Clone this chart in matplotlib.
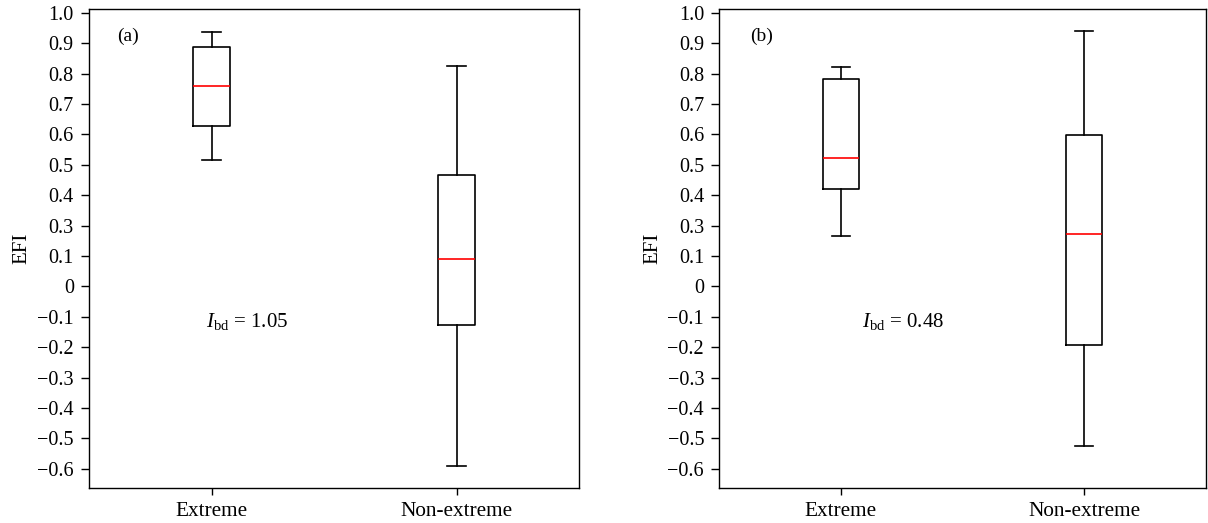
import numpy as np
import matplotlib
matplotlib.use("Agg")
import matplotlib.pyplot as plt

plt.rcParams['font.family'] = ['Liberation Serif', 'DejaVu Serif']
plt.rcParams['mathtext.fontset'] = 'custom'
plt.rcParams['mathtext.rm'] = 'Liberation Serif'
plt.rcParams['mathtext.it'] = 'Liberation Serif:italic'

categories = ["Extreme", "Non-extreme"]
panel_tags = ["(a)", "(b)"]
ibd_values = ["1.05", "0.48"]

# tick labels exactly as printed (the original axis skips 0.2)
tick_labels = [1.0, 0.9, 0.8, 0.7, 0.6, 0.5, 0.4, 0.3, 0.1, 0.0,
               -0.1, -0.2, -0.3, -0.4, -0.5, -0.6]

# box statistics, in tick-label units
# order: whislo, q1, med, q3, whishi
a_extreme = [0.516, 0.629, 0.759, 0.889, 0.936]
a_nonextreme = [-0.591, -0.126, 0.090, 0.467, 0.826]
b_extreme = [0.232, 0.420, 0.524, 0.781, 0.823]
b_nonextreme = [-0.526, -0.193, 0.246, 0.598, 0.941]

panels = [[a_extreme, a_nonextreme], [b_extreme, b_nonextreme]]

# equally spaced tick positions (as drawn)
n = len(tick_labels)
tick_pos = np.array([0.1 * (n - 1 - k) - 0.6 for k in range(n)])
lab_arr = np.array(tick_labels)


def to_axis(v):
    return float(np.interp(v, lab_arr[::-1], tick_pos[::-1]))


def fmt(v):
    if abs(v) < 1e-9:
        return "0"
    s = f"{abs(v):.1f}"
    return ("\u2212" + s) if v < 0 else s


fig = plt.figure(figsize=(12.08, 5.23), dpi=100)
axes_rects = [[0.0737, 0.067, 0.4056, 0.916], [0.5955, 0.067, 0.4025, 0.916]]
text_pos = [(0.323, 0.347), (0.378, 0.347)]
tag_pos = [(0.058, 0.942), (0.063, 0.942)]

for i, rect in enumerate(axes_rects):
    ax = fig.add_axes(rect)
    stats = []
    for cat, vals in zip(categories, panels[i]):
        wl, q1, md, q3, wh = [to_axis(v) for v in vals]
        stats.append(dict(label=cat, whislo=wl, q1=q1, med=md, q3=q3, whishi=wh, fliers=[]))
    ax.bxp(stats, positions=[1, 2], widths=0.15, showfliers=False,
           boxprops=dict(color='black', linewidth=1.2),
           whiskerprops=dict(color='black', linewidth=1.2),
           capprops=dict(color='black', linewidth=1.2),
           medianprops=dict(color='red', linewidth=1.2))
    ax.set_xlim(0.5, 2.5)
    ax.set_ylim(-0.663, 0.913)
    ax.set_yticks(tick_pos)
    ax.set_yticklabels([fmt(v) for v in tick_labels])
    ax.set_xticks([1, 2])
    ax.set_xticklabels(categories)
    ax.tick_params(axis='both', direction='out', length=5, width=1, labelsize=14.5, pad=5)
    ax.tick_params(axis='y', length=6)
    ax.tick_params(axis='x', labelsize=15.3)
    for sp in ax.spines.values():
        sp.set_linewidth(1.0)
    ax.set_ylabel("EFI", fontsize=15, labelpad=4)
    ax.text(tag_pos[i][0], tag_pos[i][1], panel_tags[i], transform=ax.transAxes,
            fontsize=14, ha='left', va='center')
    ax.text(text_pos[i][0], text_pos[i][1],
            r"$\mathit{I}_{\mathrm{bd}}$" + " = " + ibd_values[i],
            transform=ax.transAxes, fontsize=15, ha='center', va='center')

fig.savefig("out.png", dpi=100)
